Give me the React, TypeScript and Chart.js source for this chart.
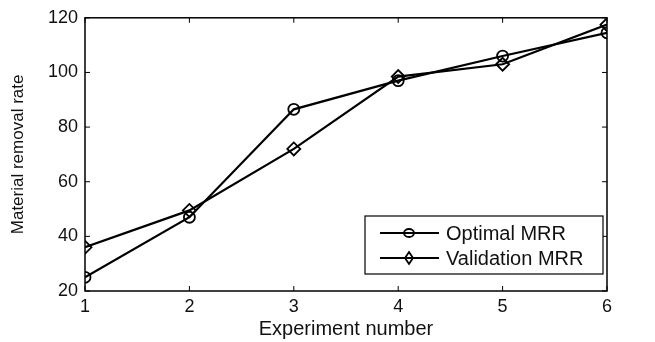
import React, { useEffect, useRef } from "react";
import { Chart, registerables } from "chart.js";

Chart.register(...registerables);

const experiments = [1, 2, 3, 4, 5, 6];
const optimalMRR = [25, 47, 86.5, 97, 106, 114.5];
const validationMRR = [36, 49.5, 72, 98.5, 103, 117.5];
const yTicks = [20, 40, 60, 80, 100, 120];

const FONT = "'Liberation Sans', Arial, sans-serif";

const boxTicksPlugin = {
  id: "boxTicks",
  afterDatasetsDraw(chart: any) {
    const { ctx, chartArea: a, scales } = chart;
    const xs = scales.x, ys = scales.y;
    ctx.save();
    ctx.strokeStyle = "#000";
    ctx.lineWidth = 1.5;
    ctx.strokeRect(a.left, a.top, a.right - a.left, a.bottom - a.top);
    const L = 5;
    ctx.lineWidth = 1;
    ctx.beginPath();
    experiments.forEach((v) => {
      const px = xs.getPixelForValue(v);
      ctx.moveTo(px, a.bottom);
      ctx.lineTo(px, a.bottom - L);
      ctx.moveTo(px, a.top);
      ctx.lineTo(px, a.top + L);
    });
    yTicks.forEach((v) => {
      const py = ys.getPixelForValue(v);
      ctx.moveTo(a.left, py);
      ctx.lineTo(a.left + L, py);
      ctx.moveTo(a.right, py);
      ctx.lineTo(a.right - L, py);
    });
    ctx.stroke();

    // legend
    const w = 238, h = 58;
    const bx = a.right - 4 - w;
    const by = a.bottom - 17 - h;
    ctx.fillStyle = "#fff";
    ctx.fillRect(bx, by, w, h);
    ctx.lineWidth = 1.2;
    ctx.strokeRect(bx, by, w, h);
    const rows = [
      { label: chart.data.datasets[0].label, style: "circle" },
      { label: chart.data.datasets[1].label, style: "diamond" },
    ];
    rows.forEach((r, i) => {
      const cy = by + 17 + i * 25;
      ctx.strokeStyle = "#000";
      ctx.lineWidth = 2.2;
      ctx.beginPath();
      ctx.moveTo(bx + 15, cy);
      ctx.lineTo(bx + 74, cy);
      ctx.stroke();
      const mx = bx + 44;
      ctx.lineWidth = 1.8;
      ctx.beginPath();
      if (r.style === "circle") {
        ctx.ellipse(mx, cy, 5, 4, 0, 0, Math.PI * 2);
      } else {
        ctx.moveTo(mx, cy - 6);
        ctx.lineTo(mx + 4, cy);
        ctx.lineTo(mx, cy + 6);
        ctx.lineTo(mx - 4, cy);
        ctx.closePath();
      }
      ctx.stroke();
      ctx.fillStyle = "#111";
      ctx.font = `20px ${FONT}`;
      ctx.textBaseline = "middle";
      ctx.textAlign = "left";
      ctx.fillText(r.label, bx + 81, cy + 1);
    });
    ctx.restore();
  },
};

export default function App() {
  const ref = useRef<HTMLCanvasElement | null>(null);
  useEffect(() => {
    document.body.style.margin = "0";
    const canvas = ref.current!;
    const chart = new Chart(canvas, {
      type: "line",
      data: {
        datasets: [
          {
            label: "Optimal MRR",
            data: experiments.map((x, i) => ({ x, y: optimalMRR[i] })),
            borderColor: "#000",
            borderWidth: 2.2,
            pointStyle: "circle",
            pointRadius: 5.5,
            pointBorderWidth: 1.8,
            pointBorderColor: "#000",
            pointBackgroundColor: "rgba(0,0,0,0)",
            tension: 0,
          },
          {
            label: "Validation MRR",
            data: experiments.map((x, i) => ({ x, y: validationMRR[i] })),
            borderColor: "#000",
            borderWidth: 2.2,
            pointStyle: "rectRot",
            pointRadius: 6.5,
            pointBorderWidth: 1.8,
            pointBorderColor: "#000",
            pointBackgroundColor: "rgba(0,0,0,0)",
            tension: 0,
          },
        ],
      },
      options: {
        animation: false,
        responsive: false,
        layout: { padding: { top: 15, right: 48, left: 0, bottom: 0 } },
        plugins: { legend: { display: false }, tooltip: { enabled: false } },
        scales: {
          x: {
            type: "linear",
            min: 1,
            max: 6,
            afterBuildTicks: (s: any) => {
              s.ticks = experiments.map((v) => ({ value: v }));
            },
            afterFit: (s: any) => {
              s.height = 51;
            },
            grid: { display: false, drawTicks: false },
            border: { display: false },
            ticks: {
              color: "#111",
              font: { family: FONT, size: 18 },
              padding: 5,
              maxRotation: 0,
            },
            title: {
              display: true,
              text: "Experiment number",
              color: "#111",
              font: { family: FONT, size: 20 },
              padding: { top: 0, bottom: 1 },
            },
          },
          y: {
            type: "linear",
            min: 20,
            max: 120,
            afterBuildTicks: (s: any) => {
              s.ticks = yTicks.map((v) => ({ value: v }));
            },
            afterFit: (s: any) => {
              s.width = 85;
            },
            grid: { display: false, drawTicks: false },
            border: { display: false },
            ticks: {
              color: "#111",
              font: { family: FONT, size: 18 },
              padding: 7,
            },
            title: {
              display: true,
              text: "Material removal rate",
              color: "#111",
              font: { family: FONT, size: 17 },
              padding: { top: 8, bottom: 0 },
            },
          },
        },
      },
      plugins: [boxTicksPlugin],
    } as any);
    return () => chart.destroy();
  }, []);
  return (
    <div style={{ width: 655, height: 342, background: "#fff" }}>
      <canvas ref={ref} width={655} height={342} style={{ display: "block" }} />
    </div>
  );
}
